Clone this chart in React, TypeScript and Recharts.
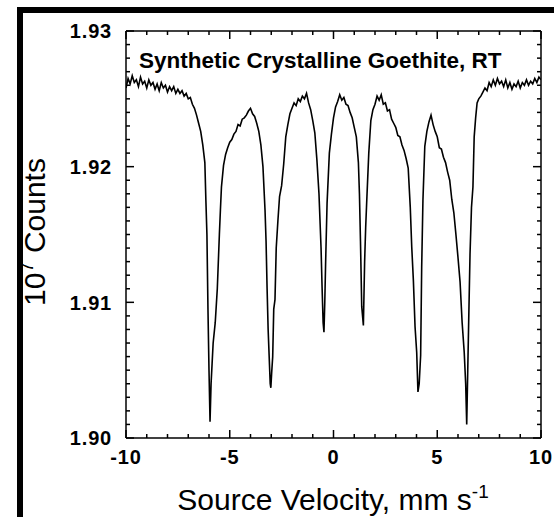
import React from 'react';
import { LineChart, Line, XAxis, YAxis, Label } from 'recharts';

// source velocity, mm/s
const velocity = [
  -10.0, -9.9, -9.8, -9.7, -9.6, -9.5, -9.4, -9.3, -9.2, -9.1,
  -9.0, -8.9, -8.8, -8.7, -8.6, -8.5, -8.4, -8.3, -8.2, -8.1,
  -8.0, -7.9, -7.8, -7.7, -7.6, -7.5, -7.4, -7.3, -7.2, -7.1,
  -7.0, -6.9, -6.8, -6.7, -6.6, -6.5, -6.4, -6.3, -6.2, -6.15,
  -6.1, -6.05, -6.0, -5.95, -5.9, -5.85, -5.8, -5.7, -5.6, -5.5,
  -5.45, -5.4, -5.3, -5.2, -5.1, -5.0, -4.9, -4.8, -4.7, -4.6,
  -4.5, -4.4, -4.3, -4.2, -4.1, -4.0, -3.9, -3.8, -3.7, -3.6,
  -3.5, -3.4, -3.3, -3.25, -3.2, -3.15, -3.1, -3.05, -3.02, -2.98,
  -2.93, -2.88, -2.82, -2.76, -2.68, -2.6, -2.5, -2.4, -2.3, -2.2,
  -2.1, -2.0, -1.9, -1.8, -1.7, -1.6, -1.5, -1.4, -1.3, -1.2,
  -1.1, -1.0, -0.9, -0.8, -0.7, -0.6, -0.55, -0.5, -0.46, -0.42,
  -0.38, -0.31, -0.2, -0.1, 0.0, 0.1, 0.2, 0.3, 0.4, 0.5,
  0.6, 0.7, 0.8, 0.9, 1.0, 1.1, 1.2, 1.25, 1.3, 1.36,
  1.44, 1.5, 1.55, 1.6, 1.7, 1.8, 1.9, 2.0, 2.1, 2.2,
  2.3, 2.4, 2.5, 2.6, 2.7, 2.8, 2.9, 3.0, 3.1, 3.2,
  3.3, 3.4, 3.5, 3.6, 3.7, 3.77, 3.85, 3.93, 4.01, 4.07,
  4.13, 4.2, 4.25, 4.31, 4.4, 4.5, 4.6, 4.7, 4.8, 4.9,
  5.0, 5.1, 5.2, 5.3, 5.4, 5.5, 5.6, 5.7, 5.8, 5.9,
  6.0, 6.1, 6.2, 6.3, 6.37, 6.42, 6.47, 6.52, 6.58, 6.65,
  6.72, 6.78, 6.85, 6.92, 7.0, 7.1, 7.2, 7.3, 7.4, 7.5,
  7.6, 7.7, 7.8, 7.9, 8.0, 8.1, 8.2, 8.3, 8.4, 8.5,
  8.6, 8.7, 8.8, 8.9, 9.0, 9.1, 9.2, 9.3, 9.4, 9.5,
  9.6, 9.7, 9.8, 9.9, 10.0,
];

// counts, units of 10^7
const counts = [
  1.9258, 1.9265, 1.9261, 1.9267, 1.9262, 1.9264, 1.9259, 1.9266, 1.9261, 1.9263,
  1.9258, 1.9264, 1.9260, 1.9262, 1.9257, 1.9261, 1.9256, 1.9262, 1.9258, 1.9260,
  1.9255, 1.9259, 1.9256, 1.9259, 1.9254, 1.9257, 1.9254, 1.9256, 1.9252, 1.9254,
  1.9250, 1.9251, 1.9246, 1.9243, 1.9238, 1.9232, 1.9226, 1.9216, 1.9203, 1.9175,
  1.9150, 1.9095, 1.9050, 1.9012, 1.9040, 1.9055, 1.9070, 1.9085, 1.9110, 1.9150,
  1.9168, 1.9185, 1.9201, 1.9209, 1.9214, 1.9218, 1.9220, 1.9224, 1.9226, 1.9231,
  1.9230, 1.9235, 1.9236, 1.9238, 1.9241, 1.9243, 1.9239, 1.9237, 1.9232, 1.9226,
  1.9216, 1.9200, 1.9168, 1.9145, 1.9110, 1.9080, 1.9060, 1.9040, 1.9037, 1.9048,
  1.9060, 1.9095, 1.9102, 1.9140, 1.9160, 1.9178, 1.9186, 1.9202, 1.9222, 1.9231,
  1.9239, 1.9243, 1.9247, 1.9245, 1.9250, 1.9248, 1.9252, 1.9250, 1.9254, 1.9247,
  1.9242, 1.9234, 1.9225, 1.9205, 1.9180, 1.9140, 1.9111, 1.9085, 1.9078, 1.9100,
  1.9129, 1.9173, 1.9210, 1.9224, 1.9236, 1.9244, 1.9248, 1.9253, 1.9249, 1.9251,
  1.9246, 1.9245, 1.9240, 1.9236, 1.9229, 1.9222, 1.9203, 1.9180, 1.9145, 1.9097,
  1.9083, 1.9130, 1.9155, 1.9174, 1.9210, 1.9234, 1.9242, 1.9246, 1.9252, 1.9249,
  1.9253, 1.9246, 1.9247, 1.9241, 1.9242, 1.9235, 1.9232, 1.9229, 1.9223, 1.9222,
  1.9216, 1.9212, 1.9206, 1.9199, 1.9170, 1.9141, 1.9116, 1.9082, 1.9063, 1.9034,
  1.9040, 1.9061, 1.9126, 1.9175, 1.9215, 1.9226, 1.9233, 1.9238, 1.9231, 1.9226,
  1.9222, 1.9214, 1.9213, 1.9207, 1.9203, 1.9196, 1.9190, 1.9176, 1.9166, 1.9150,
  1.9133, 1.9115, 1.9085, 1.9063, 1.9040, 1.9010, 1.9050, 1.9090, 1.9136, 1.9170,
  1.9185, 1.9222, 1.9236, 1.9247, 1.9250, 1.9252, 1.9255, 1.9258, 1.9256, 1.9262,
  1.9259, 1.9264, 1.9260, 1.9265, 1.9261, 1.9263, 1.9259, 1.9264, 1.9258, 1.9262,
  1.9257, 1.9261, 1.9259, 1.9263, 1.9258, 1.9262, 1.9260, 1.9264, 1.9260, 1.9263,
  1.9261, 1.9265, 1.9262, 1.9266, 1.9264,
];

const xTicks = [-10, -9, -8, -7, -6, -5, -4, -3, -2, -1, 0, 1, 2, 3, 4, 5, 6, 7, 8, 9, 10];
const yTicks = [
  1.900, 1.901, 1.902, 1.903, 1.904, 1.905, 1.906, 1.907, 1.908, 1.909,
  1.910, 1.911, 1.912, 1.913, 1.914, 1.915, 1.916, 1.917, 1.918, 1.919,
  1.920, 1.921, 1.922, 1.923, 1.924, 1.925, 1.926, 1.927, 1.928, 1.929, 1.930,
];

const data = velocity.map((v, i) => ({ v, c: counts[i] }));

const FONT = '"Liberation Sans", Arial, Helvetica, sans-serif';

const isMajorX = (v: number) => v % 5 === 0;
const isMajorY = (v: number) => Math.abs(v * 100 - Math.round(v * 100)) < 1e-6;

// ticks point inward, labels only on the majors
const BottomTick = ({ x, y, payload }: any) => {
  const major = isMajorX(payload.value);
  return (
    <g>
      <line x1={x} x2={x} y1={y} y2={y - (major ? 8 : 4)} stroke="#000" strokeWidth={1.5} />
      {major && (
        <text x={x} y={y + 26} textAnchor="middle" fontFamily={FONT} fontWeight="bold" fontSize={20} letterSpacing={0.8} fill="#000">
          {payload.value}
        </text>
      )}
    </g>
  );
};

const TopTick = ({ x, y, payload }: any) => {
  const major = isMajorX(payload.value);
  return <line x1={x} x2={x} y1={y} y2={y + (major ? 8 : 4)} stroke="#000" strokeWidth={1.5} />;
};

const LeftTick = ({ x, y, payload }: any) => {
  const major = isMajorY(payload.value);
  return (
    <g>
      <line x1={x} x2={x + (major ? 8 : 4)} y1={y} y2={y} stroke="#000" strokeWidth={1.5} />
      {major && (
        <text x={x - 14} y={y} dy="0.36em" textAnchor="end" fontFamily={FONT} fontWeight="bold" fontSize={20} letterSpacing={0.8} fill="#000">
          {payload.value.toFixed(2)}
        </text>
      )}
    </g>
  );
};

const RightTick = ({ x, y, payload }: any) => {
  const major = isMajorY(payload.value);
  return <line x1={x} x2={x - (major ? 8 : 4)} y1={y} y2={y} stroke="#000" strokeWidth={1.5} />;
};

export default function App() {
  return (
    <div style={{ position: 'absolute', left: 0, top: 0, width: 554, height: 517, background: '#fff', overflow: 'hidden' }}>
      <div
        style={{
          position: 'absolute', left: 17, top: 7, width: 537, height: 510,
          borderLeft: '6px solid #000', borderTop: '6px solid #000', boxSizing: 'border-box',
        }}
      />
      <div style={{ position: 'absolute', left: 0, top: 0 }}>
        <LineChart width={554} height={517} data={data} margin={{ top: 30, right: 12, left: 0, bottom: 0 }}>
          <XAxis
            dataKey="v" type="number" domain={[-10, 10]} ticks={xTicks} allowDataOverflow
            height={79} tickSize={0} tickMargin={0} tickLine={false} interval={0}
            axisLine={{ stroke: '#000', strokeWidth: 1.5 }} tick={<BottomTick />}
          >
            <Label
              content={() => (
                <text x={333} y={510} textAnchor="middle" fontFamily={FONT} fontSize={30} fill="#000">
                  Source Velocity, mm s<tspan dy={-12} fontSize={19}>-1</tspan>
                </text>
              )}
            />
          </XAxis>
          <XAxis
            xAxisId="top" orientation="top" dataKey="v" type="number" domain={[-10, 10]} ticks={xTicks}
            allowDataOverflow height={1} tickSize={0} tickMargin={0} tickLine={false} interval={0}
            axisLine={{ stroke: '#000', strokeWidth: 1.5 }} tick={<TopTick />}
          >
            <Label
              content={() => (
                <text x={139} y={68} fontFamily={FONT} fontWeight="bold" fontSize={22.5} fill="#000">
                  Synthetic Crystalline Goethite, RT
                </text>
              )}
            />
          </XAxis>
          <YAxis
            type="number" domain={[1.9, 1.93]} ticks={yTicks} allowDataOverflow width={126}
            tickSize={0} tickMargin={0} tickLine={false} interval={0}
            axisLine={{ stroke: '#000', strokeWidth: 1.5 }} tick={<LeftTick />}
          >
            <Label
              content={() => (
                <text x={45} y={232} textAnchor="middle" fontFamily={FONT} fontSize={30} fill="#000" transform="rotate(-90 45 232)">
                  10<tspan dy={-12} fontSize={20}>7</tspan>
                  <tspan dy={12}> Counts</tspan>
                </text>
              )}
            />
          </YAxis>
          <YAxis
            yAxisId="right" orientation="right" type="number" domain={[1.9, 1.93]} ticks={yTicks}
            allowDataOverflow width={1} tickSize={0} tickMargin={0} tickLine={false} interval={0}
            axisLine={{ stroke: '#000', strokeWidth: 1.5 }} tick={<RightTick />}
          />
          {/* invisible copy so the mirrored top/right axes get drawn */}
          <Line
            xAxisId="top" yAxisId="right" type="linear" dataKey="c" stroke="none" dot={false}
            isAnimationActive={false}
          />
          <Line
            type="linear" dataKey="c" stroke="#000" strokeWidth={1.6} dot={false}
            isAnimationActive={false}
          />
        </LineChart>
      </div>
    </div>
  );
}
